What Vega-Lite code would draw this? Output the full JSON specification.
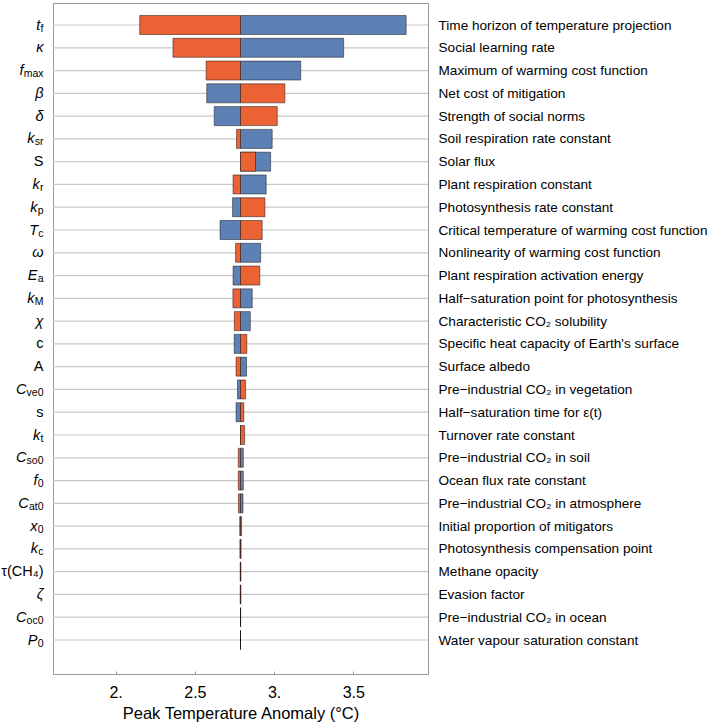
{
  "$schema": "https://vega.github.io/schema/vega-lite/v6.json",
  "autosize": {"type": "none"},
  "padding": {"left": 53, "top": 3, "right": 286, "bottom": 51},
  "width": 375,
  "height": 671,
  "config": {
    "font": "Liberation Sans",
    "view": {"stroke": "#999999", "strokeWidth": 1}
  },
  "data": {
    "values": [
      {"row": 1, "sym": "t|f", "desc": "Time horizon of temperature projection", "setting": "low", "value": 2.152},
      {"row": 1, "sym": "t|f", "desc": "Time horizon of temperature projection", "setting": "high", "value": 3.833},
      {"row": 2, "sym": "κ|", "desc": "Social learning rate", "setting": "low", "value": 2.362},
      {"row": 2, "sym": "κ|", "desc": "Social learning rate", "setting": "high", "value": 3.439},
      {"row": 3, "sym": "f|max", "desc": "Maximum of warming cost function", "setting": "low", "value": 2.571},
      {"row": 3, "sym": "f|max", "desc": "Maximum of warming cost function", "setting": "high", "value": 3.168},
      {"row": 4, "sym": "β|", "desc": "Net cost of mitigation", "setting": "low", "value": 3.068},
      {"row": 4, "sym": "β|", "desc": "Net cost of mitigation", "setting": "high", "value": 2.575},
      {"row": 5, "sym": "δ|", "desc": "Strength of social norms", "setting": "low", "value": 3.020},
      {"row": 5, "sym": "δ|", "desc": "Strength of social norms", "setting": "high", "value": 2.622},
      {"row": 6, "sym": "k|sr", "desc": "Soil respiration rate constant", "setting": "low", "value": 2.763},
      {"row": 6, "sym": "k|sr", "desc": "Soil respiration rate constant", "setting": "high", "value": 2.988},
      {"row": 7, "sym": "S|", "desc": "Solar flux", "setting": "low", "value": 2.883},
      {"row": 7, "sym": "S|", "desc": "Solar flux", "setting": "high", "value": 2.978},
      {"row": 8, "sym": "k|r", "desc": "Plant respiration constant", "setting": "low", "value": 2.741},
      {"row": 8, "sym": "k|r", "desc": "Plant respiration constant", "setting": "high", "value": 2.950},
      {"row": 9, "sym": "k|p", "desc": "Photosynthesis rate constant", "setting": "low", "value": 2.942},
      {"row": 9, "sym": "k|p", "desc": "Photosynthesis rate constant", "setting": "high", "value": 2.738},
      {"row": 10, "sym": "T|c", "desc": "Critical temperature of warming cost function", "setting": "low", "value": 2.925},
      {"row": 10, "sym": "T|c", "desc": "Critical temperature of warming cost function", "setting": "high", "value": 2.659},
      {"row": 11, "sym": "ω|", "desc": "Nonlinearity of warming cost function", "setting": "low", "value": 2.757},
      {"row": 11, "sym": "ω|", "desc": "Nonlinearity of warming cost function", "setting": "high", "value": 2.915},
      {"row": 12, "sym": "E|a", "desc": "Plant respiration activation energy", "setting": "low", "value": 2.910},
      {"row": 12, "sym": "E|a", "desc": "Plant respiration activation energy", "setting": "high", "value": 2.741},
      {"row": 13, "sym": "k|M", "desc": "Half−saturation point for photosynthesis", "setting": "low", "value": 2.740},
      {"row": 13, "sym": "k|M", "desc": "Half−saturation point for photosynthesis", "setting": "high", "value": 2.862},
      {"row": 14, "sym": "χ|", "desc": "Characteristic CO₂ solubility", "setting": "low", "value": 2.749},
      {"row": 14, "sym": "χ|", "desc": "Characteristic CO₂ solubility", "setting": "high", "value": 2.850},
      {"row": 15, "sym": "c|", "desc": "Specific heat capacity of Earth's surface", "setting": "low", "value": 2.828},
      {"row": 15, "sym": "c|", "desc": "Specific heat capacity of Earth's surface", "setting": "high", "value": 2.748},
      {"row": 16, "sym": "A|", "desc": "Surface albedo", "setting": "low", "value": 2.760},
      {"row": 16, "sym": "A|", "desc": "Surface albedo", "setting": "high", "value": 2.826},
      {"row": 17, "sym": "C|ve0", "desc": "Pre−industrial CO₂ in vegetation", "setting": "low", "value": 2.820},
      {"row": 17, "sym": "C|ve0", "desc": "Pre−industrial CO₂ in vegetation", "setting": "high", "value": 2.769},
      {"row": 18, "sym": "s|", "desc": "Half−saturation time for ε(t)", "setting": "low", "value": 2.809},
      {"row": 18, "sym": "s|", "desc": "Half−saturation time for ε(t)", "setting": "high", "value": 2.760},
      {"row": 19, "sym": "k|t", "desc": "Turnover rate constant", "setting": "low", "value": 2.814},
      {"row": 19, "sym": "k|t", "desc": "Turnover rate constant", "setting": "high", "value": 2.790},
      {"row": 20, "sym": "C|so0", "desc": "Pre−industrial CO₂ in soil", "setting": "low", "value": 2.774},
      {"row": 20, "sym": "C|so0", "desc": "Pre−industrial CO₂ in soil", "setting": "high", "value": 2.806},
      {"row": 21, "sym": "f|0", "desc": "Ocean flux rate constant", "setting": "low", "value": 2.774},
      {"row": 21, "sym": "f|0", "desc": "Ocean flux rate constant", "setting": "high", "value": 2.806},
      {"row": 22, "sym": "C|at0", "desc": "Pre−industrial CO₂ in atmosphere", "setting": "low", "value": 2.775},
      {"row": 22, "sym": "C|at0", "desc": "Pre−industrial CO₂ in atmosphere", "setting": "high", "value": 2.804},
      {"row": 23, "sym": "x|0", "desc": "Initial proportion of mitigators", "setting": "low", "value": 2.795},
      {"row": 23, "sym": "x|0", "desc": "Initial proportion of mitigators", "setting": "high", "value": 2.783},
      {"row": 24, "sym": "k|c", "desc": "Photosynthesis compensation point", "setting": "low", "value": 2.784},
      {"row": 24, "sym": "k|c", "desc": "Photosynthesis compensation point", "setting": "high", "value": 2.792},
      {"row": 25, "sym": "τ(CH₄)|", "desc": "Methane opacity", "setting": "low", "value": 2.791},
      {"row": 25, "sym": "τ(CH₄)|", "desc": "Methane opacity", "setting": "high", "value": 2.786},
      {"row": 26, "sym": "ζ|", "desc": "Evasion factor", "setting": "low", "value": 2.791},
      {"row": 26, "sym": "ζ|", "desc": "Evasion factor", "setting": "high", "value": 2.786},
      {"row": 27, "sym": "C|oc0", "desc": "Pre−industrial CO₂ in ocean", "setting": "low", "value": 2.789},
      {"row": 27, "sym": "C|oc0", "desc": "Pre−industrial CO₂ in ocean", "setting": "high", "value": 2.788},
      {"row": 28, "sym": "P|0", "desc": "Water vapour saturation constant", "setting": "low", "value": 2.788},
      {"row": 28, "sym": "P|0", "desc": "Water vapour saturation constant", "setting": "high", "value": 2.788}
    ]
  },
  "layer": [
    {
      "transform": [{"filter": "datum.setting == 'high'"}],
      "mark": {"type": "rule", "color": "#c8c8c8", "strokeWidth": 1.2},
      "encoding": {
        "y": {
          "field": "desc", "type": "nominal",
          "sort": {"field": "row", "op": "min", "order": "ascending"},
          "scale": {"type": "point", "padding": 0, "range": [22, 637]},
          "axis": {"orient": "right", "title": null, "domain": false, "ticks": false, "grid": false,
                   "labelPadding": 10, "labelFontSize": 13.6, "labelColor": "#000000", "labelLimit": 400}
        }
      }
    },
    {
      "transform": [{"filter": "datum.setting == 'high'"}],
      "mark": {"type": "bar", "fill": "#5E81B5", "stroke": "#000000", "strokeOpacity": 0.45, "strokeWidth": 1, "height": 19},
      "encoding": {
        "x": {
          "field": "value", "type": "quantitative",
          "scale": {"domain": [1.605, 3.971], "nice": false, "zero": false},
          "axis": {"values": [2, 2.5, 3, 3.5], "grid": false, "domain": false, "ticks": true, "tickSize": -3, "tickColor": "#999999",
                   "labelPadding": 13, "labelFontSize": 16, "labelColor": "#000000",
                   "labelExpr": "datum.value == floor(datum.value) ? datum.value + '.' : datum.label",
                   "title": "Peak Temperature Anomaly (°C)", "titleFontSize": 16.5, "titleFontWeight": "normal", "titleColor": "#000000", "titlePadding": 5}
        },
        "x2": {"datum": 2.788},
        "y": {
          "field": "sym", "type": "nominal",
          "sort": {"field": "row", "op": "min", "order": "ascending"},
          "scale": {"type": "point", "padding": 0, "range": [22, 637]},
          "axis": {"orient": "left", "title": null, "domain": false, "ticks": false, "grid": false,
                   "labelFontSize": 14.5, "labelColor": "#000000",
                   "labelFontStyle": {"condition": {"test": "indexof(['S|','c|','A|','s|','τ(CH₄)|'], datum.value) >= 0", "value": "normal"}, "value": "italic"},
                   "labelPadding": {"condition": [
                     {"test": "indexof(['t|f','k|t'], datum.value) >= 0", "value": 13.2},
                     {"test": "indexof(['k|r'], datum.value) >= 0", "value": 13.7},
                     {"test": "indexof(['T|c','k|c'], datum.value) >= 0", "value": 15.4},
                     {"test": "indexof(['k|p','E|a','f|0','x|0','P|0'], datum.value) >= 0", "value": 16},
                     {"test": "indexof(['k|sr','k|M'], datum.value) >= 0", "value": 18.9},
                     {"test": "indexof(['C|at0'], datum.value) >= 0", "value": 24.8},
                     {"test": "indexof(['C|ve0','C|so0','C|oc0'], datum.value) >= 0", "value": 27.1},
                     {"test": "indexof(['f|max'], datum.value) >= 0", "value": 30}
                   ], "value": 10},
                   "labelExpr": "split(datum.value,'|')[0]"}
        }
      }
    },
    {
      "transform": [{"filter": "datum.setting == 'low'"}],
      "mark": {"type": "bar", "fill": "#EB6235", "stroke": "#000000", "strokeOpacity": 0.45, "strokeWidth": 1, "height": 19},
      "encoding": {
        "x": {
          "field": "value", "type": "quantitative",
          "scale": {"domain": [1.605, 3.971], "nice": false, "zero": false},
          "axis": {"values": [2, 2.5, 3, 3.5], "grid": false, "domain": false, "ticks": true, "tickSize": -3, "tickColor": "#999999",
                   "labelPadding": 13, "labelFontSize": 16, "labelColor": "#000000",
                   "labelExpr": "datum.value == floor(datum.value) ? datum.value + '.' : datum.label",
                   "title": "Peak Temperature Anomaly (°C)", "titleFontSize": 16.5, "titleFontWeight": "normal", "titleColor": "#000000", "titlePadding": 5}
        },
        "x2": {"datum": 2.788},
        "y": {
          "field": "sym", "type": "nominal",
          "sort": {"field": "row", "op": "min", "order": "ascending"},
          "scale": {"type": "point", "padding": 0, "range": [22, 637]},
          "axis": {"orient": "left", "title": null, "domain": false, "ticks": false, "grid": false,
                   "labelPadding": 10, "labelFontSize": 10.5, "labelColor": "#000000", "labelOffset": 3,
                   "labelExpr": "split(datum.value,'|')[1]"}
        }
      }
    }
  ],
  "resolve": {"scale": {"y": "independent"}, "axis": {"y": "independent"}}
}
